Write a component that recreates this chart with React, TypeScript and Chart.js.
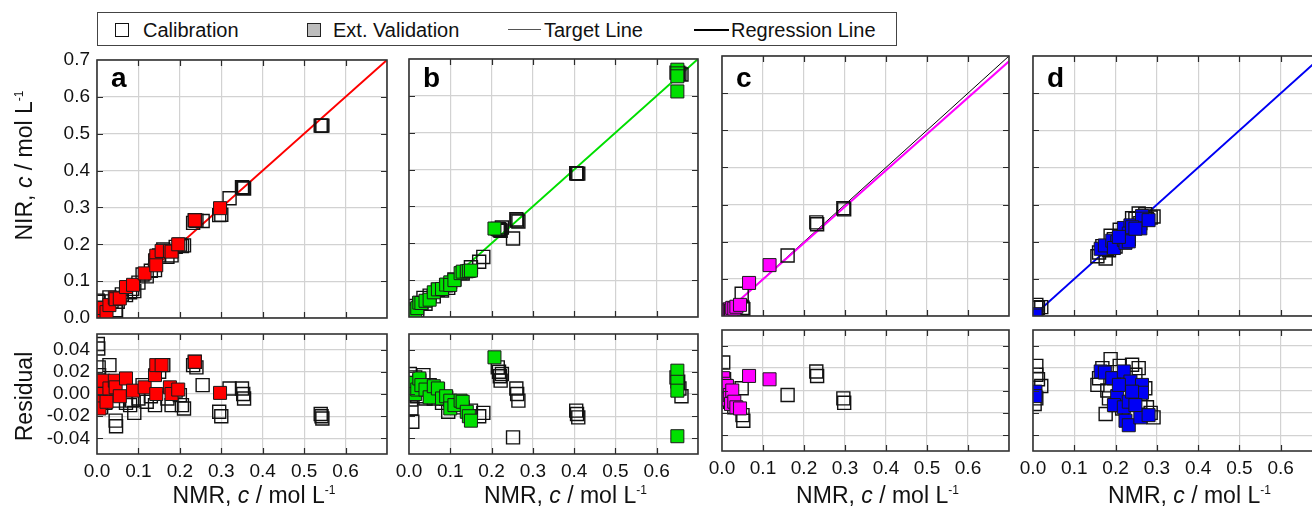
import React, { useEffect, useRef } from 'react';
import { Chart, registerables } from 'chart.js';
Chart.register(...registerables);

// ---------- axis ticks / ranges ----------
const nmrTicks = [0, 0.1, 0.2, 0.3, 0.4, 0.5, 0.6, 0.7];
const nirTicks = [0, 0.1, 0.2, 0.3, 0.4, 0.5, 0.6, 0.7];
const resTicks = [-0.04, -0.02, 0, 0.02, 0.04];
const nmrRange = [0, 0.7];
const nirRange = [0, 0.7];
const resRange = [-0.054, 0.054];

const panelLetters = ['a', 'b', 'c', 'd'];
const regColors = ['#ff0000', '#00e000', '#ff00ff', '#0000f5'];
const regSlope = [1.0, 1.0, 0.978, 0.999];
const regIntercept = [0.0, 0.0, 0.001, 0.0];

const legendLabels = ['Calibration', 'Ext. Validation', 'Target Line', 'Regression Line'];

// ---------- panel a ----------
const calNmrA = [0.002, 0.003, 0.004, 0.005, 0.006, 0.008, 0.010, 0.015, 0.020, 0.030, 0.035, 0.045, 0.046, 0.050, 0.060, 0.070, 0.080, 0.085, 0.090, 0.100, 0.110, 0.120, 0.130, 0.140, 0.150, 0.160, 0.170, 0.180, 0.190, 0.200, 0.205, 0.210, 0.232, 0.236, 0.240, 0.255, 0.295, 0.300, 0.320, 0.350, 0.353, 0.355, 0.540, 0.542, 0.544];
const calNirA = [0.047, 0.044, 0.028, 0.022, 0.014, 0.004, 0.000, 0.017, 0.012, 0.056, 0.045, 0.021, 0.017, 0.044, 0.064, 0.062, 0.070, 0.079, 0.073, 0.096, 0.118, 0.113, 0.128, 0.130, 0.170, 0.186, 0.166, 0.170, 0.193, 0.199, 0.195, 0.197, 0.258, 0.265, 0.264, 0.263, 0.279, 0.280, 0.325, 0.355, 0.353, 0.351, 0.522, 0.522, 0.522];
const calResA = [0.045, 0.041, 0.024, 0.017, 0.008, -0.004, -0.012, 0.002, -0.008, 0.026, 0.010, -0.024, -0.029, -0.006, 0.004, -0.008, -0.010, -0.006, -0.017, -0.004, 0.008, -0.007, -0.002, -0.010, 0.020, 0.026, -0.004, -0.010, 0.003, -0.001, -0.010, -0.013, 0.026, 0.029, 0.024, 0.008, -0.016, -0.020, 0.005, 0.005, 0.000, -0.004, -0.018, -0.020, -0.022];
const valNmrA = [0.002, 0.004, 0.006, 0.006, 0.015, 0.023, 0.030, 0.043, 0.045, 0.055, 0.070, 0.087, 0.115, 0.140, 0.143, 0.156, 0.143, 0.176, 0.180, 0.196, 0.236, 0.297];
const valNirA = [0.012, 0.004, 0.000, 0.000, 0.027, 0.016, 0.035, 0.055, 0.051, 0.053, 0.084, 0.090, 0.121, 0.157, 0.169, 0.182, 0.143, 0.182, 0.180, 0.200, 0.265, 0.298];
const valResA = [0.010, 0.000, -0.007, -0.013, 0.012, -0.007, 0.005, 0.012, 0.006, -0.002, 0.014, 0.003, 0.006, 0.017, 0.026, 0.026, 0.000, 0.006, 0.000, 0.004, 0.029, 0.001];

// ---------- panel b ----------
const calNmrB = [0.002, 0.004, 0.005, 0.006, 0.008, 0.010, 0.015, 0.020, 0.025, 0.030, 0.035, 0.040, 0.050, 0.060, 0.070, 0.080, 0.090, 0.095, 0.110, 0.130, 0.150, 0.170, 0.180, 0.215, 0.218, 0.220, 0.222, 0.225, 0.252, 0.260, 0.262, 0.265, 0.405, 0.407, 0.410, 0.648, 0.652, 0.655, 0.660];
const calNirB = [0.020, 0.014, 0.000, 0.000, 0.000, 0.015, 0.030, 0.018, 0.037, 0.036, 0.052, 0.036, 0.058, 0.056, 0.074, 0.072, 0.086, 0.079, 0.102, 0.118, 0.135, 0.150, 0.163, 0.239, 0.238, 0.236, 0.234, 0.243, 0.213, 0.265, 0.262, 0.259, 0.390, 0.389, 0.389, 0.663, 0.663, 0.660, 0.658];
const calResB = [0.018, 0.010, -0.005, -0.013, -0.025, 0.005, 0.015, -0.002, 0.012, 0.006, 0.017, -0.004, 0.008, -0.004, 0.004, -0.008, -0.004, -0.016, -0.008, -0.012, -0.015, -0.020, -0.017, 0.024, 0.020, 0.016, 0.012, 0.018, -0.039, 0.005, 0.000, -0.006, -0.015, -0.018, -0.021, 0.015, 0.011, 0.005, -0.002];
const valNmrB = [0.005, 0.010, 0.015, 0.020, 0.025, 0.030, 0.040, 0.050, 0.060, 0.070, 0.080, 0.090, 0.100, 0.100, 0.110, 0.125, 0.130, 0.140, 0.145, 0.150, 0.207, 0.650, 0.650, 0.650, 0.650];
const valNirB = [0.009, 0.020, 0.015, 0.024, 0.039, 0.038, 0.044, 0.047, 0.067, 0.075, 0.076, 0.088, 0.094, 0.087, 0.100, 0.119, 0.123, 0.124, 0.125, 0.126, 0.240, 0.671, 0.661, 0.653, 0.612];
const valResB = [0.004, 0.010, 0.000, 0.004, 0.014, 0.008, 0.004, -0.003, 0.007, 0.005, -0.004, -0.002, -0.006, -0.013, -0.010, -0.006, -0.007, -0.016, -0.020, -0.024, 0.033, 0.021, 0.011, 0.003, -0.038];

// ---------- panel c ----------
const calNmrC = [0.003, 0.005, 0.008, 0.010, 0.015, 0.020, 0.030, 0.048, 0.050, 0.052, 0.160, 0.230, 0.232, 0.296, 0.298];
const calNirC = [0.006, 0.008, 0.010, 0.012, 0.016, 0.014, 0.020, 0.060, 0.022, 0.018, 0.163, 0.252, 0.247, 0.290, 0.287];
const calResC = [0.025, 0.010, 0.004, 0.000, -0.005, -0.010, -0.015, 0.002, -0.022, -0.027, -0.004, 0.017, 0.013, -0.007, -0.011];
const valNmrC = [0.003, 0.005, 0.008, 0.010, 0.012, 0.015, 0.019, 0.022, 0.025, 0.030, 0.035, 0.044, 0.066, 0.116];
const valNirC = [0.004, 0.006, 0.008, 0.010, 0.015, 0.012, 0.018, 0.015, 0.022, 0.020, 0.025, 0.030, 0.089, 0.137];
const valResC = [0.011, 0.006, 0.000, -0.005, 0.004, -0.008, -0.004, -0.012, 0.000, -0.010, -0.015, -0.016, 0.013, 0.010];

// ---------- panel d ----------
const calNmrD = [0.008, 0.008, 0.012, 0.020, 0.008, 0.004, 0.188, 0.160, 0.156, 0.176, 0.184, 0.200, 0.216, 0.240, 0.248, 0.272, 0.276, 0.292, 0.232, 0.168, 0.224, 0.256, 0.196, 0.210, 0.180, 0.260, 0.285];
const calNirD = [0.030, 0.022, 0.022, 0.024, 0.001, 0.000, 0.216, 0.171, 0.161, 0.155, 0.177, 0.187, 0.200, 0.263, 0.262, 0.274, 0.261, 0.268, 0.208, 0.188, 0.223, 0.276, 0.207, 0.232, 0.180, 0.250, 0.265];
const calResD = [0.022, 0.014, 0.010, 0.004, -0.007, -0.012, 0.028, 0.011, 0.005, -0.021, -0.007, -0.013, -0.016, 0.023, 0.014, 0.002, -0.015, -0.024, -0.024, 0.020, -0.001, 0.020, 0.011, 0.022, 0.000, -0.010, -0.020];
const valNmrD = [0.006, 0.006, 0.164, 0.174, 0.192, 0.220, 0.236, 0.264, 0.264, 0.204, 0.196, 0.220, 0.232, 0.224, 0.232, 0.260, 0.280, 0.208, 0.240, 0.248];
const valNirD = [0.005, 0.001, 0.181, 0.190, 0.203, 0.237, 0.244, 0.269, 0.262, 0.199, 0.183, 0.205, 0.222, 0.197, 0.201, 0.236, 0.258, 0.213, 0.239, 0.235];
const valResD = [-0.001, -0.005, 0.017, 0.016, 0.011, 0.017, 0.008, 0.005, -0.002, -0.005, -0.013, -0.015, -0.010, -0.027, -0.031, -0.024, -0.022, 0.005, -0.001, -0.013];

const calNmr = [calNmrA, calNmrB, calNmrC, calNmrD];
const calNir = [calNirA, calNirB, calNirC, calNirD];
const calRes = [calResA, calResB, calResC, calResD];
const valNmr = [valNmrA, valNmrB, valNmrC, valNmrD];
const valNir = [valNirA, valNirB, valNirC, valNirD];
const valRes = [valResA, valResB, valResC, valResD];

// ---------- layout (positions only) ----------
const FONT = '"Liberation Sans", Arial, Helvetica, sans-serif';
type Rect = { l: number; t: number; w: number; h: number };
const topRects: Rect[] = [
  { l: 97, t: 60, w: 290, h: 258 },
  { l: 409, t: 59, w: 289, h: 258 },
  { l: 722, t: 56, w: 287, h: 260 },
  { l: 1033, t: 56, w: 289, h: 260 },
];
const botRects: Rect[] = [
  { l: 97, t: 334, w: 290, h: 120 },
  { l: 409, t: 334, w: 289, h: 120 },
  { l: 722, t: 330, w: 287, h: 121 },
  { l: 1033, t: 330, w: 289, h: 121 },
];
const PAD_L = 70;
const PAD_T = 24;
const PAD_R = 16;
const LETTER_BASELINE = 87;

const framePlugin = {
  id: 'frame',
  afterDatasetsDraw(chart: any, _args: any, opts: any) {
    const { ctx, chartArea: a, scales } = chart;
    ctx.save();
    ctx.strokeStyle = '#2b2b2b';
    ctx.lineWidth = 1.2;
    const tl = 6;
    ctx.beginPath();
    scales.x.ticks.forEach((t: any) => {
      const px = Math.round(scales.x.getPixelForValue(t.value)) + 0.5;
      if (px <= a.left + 2 || px >= a.right - 2) return;
      ctx.moveTo(px, a.top);
      ctx.lineTo(px, a.top + tl);
      ctx.moveTo(px, a.bottom);
      ctx.lineTo(px, a.bottom - tl);
    });
    scales.y.ticks.forEach((t: any) => {
      const py = Math.round(scales.y.getPixelForValue(t.value)) + 0.5;
      if (py <= a.top + 2 || py >= a.bottom - 2) return;
      ctx.moveTo(a.left, py);
      ctx.lineTo(a.left + tl, py);
      ctx.moveTo(a.right, py);
      ctx.lineTo(a.right - tl, py);
    });
    ctx.stroke();
    ctx.lineWidth = 1.6;
    ctx.strokeStyle = '#333';
    ctx.strokeRect(a.left, a.top, a.right - a.left, a.bottom - a.top);
    if (opts && opts.letter) {
      ctx.font = `bold 28px ${FONT}`;
      ctx.fillStyle = '#000';
      ctx.textBaseline = 'alphabetic';
      ctx.textAlign = 'left';
      ctx.fillText(opts.letter, a.left + 14, opts.letterY);
    }
    ctx.restore();
  },
};

type PanelProps = {
  rect: Rect;
  index: number;
  residual: boolean;
};

function Panel({ rect, index, residual }: PanelProps) {
  const ref = useRef<HTMLCanvasElement>(null);
  const showX = residual;
  const showY = index === 0;
  const padB = showX ? 44 : 24;
  const cw = rect.w + PAD_L + PAD_R;
  const ch = rect.h + PAD_T + padB;
  const canvasTop = rect.t - PAD_T;

  useEffect(() => {
    const yVals = residual ? resTicks : nirTicks;
    const yRange = residual ? resRange : nirRange;
    const calY = residual ? calRes[index] : calNir[index];
    const valY = residual ? valRes[index] : valNir[index];
    const datasets: any[] = [
      {
        label: legendLabels[1],
        data: valNmr[index].map((x, i) => ({ x, y: valY[i] })),
        pointStyle: 'rect',
        pointRadius: 9.2,
        pointBackgroundColor: regColors[index],
        pointBorderColor: '#1a1a1a',
        pointBorderWidth: 1,
        showLine: false,
        order: 0,
        clip: 0,
      },
      {
        label: legendLabels[0],
        data: calNmr[index].map((x, i) => ({ x, y: calY[i] })),
        pointStyle: 'rect',
        pointRadius: 9.2,
        pointBackgroundColor: 'rgba(0,0,0,0)',
        pointBorderColor: '#111',
        pointBorderWidth: 1.4,
        showLine: false,
        order: 1,
        clip: 0,
      },
    ];
    if (!residual) {
      datasets.push({
        label: legendLabels[3],
        data: nmrRange.map((x) => ({ x, y: regSlope[index] * x + regIntercept[index] })),
        showLine: true,
        borderColor: regColors[index],
        borderWidth: 2,
        pointRadius: 0,
        order: 2,
        clip: 0,
      });
      datasets.push({
        label: legendLabels[2],
        data: nmrRange.map((x) => ({ x, y: x })),
        showLine: true,
        borderColor: '#000',
        borderWidth: 1,
        pointRadius: 0,
        order: 3,
        clip: 0,
      });
    }
    const chart = new Chart(ref.current as HTMLCanvasElement, {
      type: 'scatter',
      data: { datasets },
      options: {
        animation: false,
        responsive: false,
        maintainAspectRatio: false,
        devicePixelRatio: 1,
        events: [],
        layout: { autoPadding: false, padding: { left: 0, top: PAD_T, right: PAD_R, bottom: 0 } },
        plugins: {
          legend: { display: false },
          tooltip: { enabled: false },
          frame: {
            letter: residual ? '' : panelLetters[index],
            letterY: LETTER_BASELINE - canvasTop,
          },
        } as any,
        scales: {
          x: {
            type: 'linear',
            min: nmrRange[0],
            max: nmrRange[1],
            afterBuildTicks: (s: any) => {
              s.ticks = nmrTicks.map((v) => ({ value: v }));
            },
            afterFit: (s: any) => {
              s.height = padB;
            },
            ticks: {
              display: showX,
              autoSkip: false,
              maxRotation: 0,
              padding: 6,
              color: '#111',
              font: { size: 19, family: FONT },
              callback: (v: any) => (Math.abs(Number(v) - 0.7) < 1e-9 ? '' : Number(v).toFixed(1)),
            },
            grid: { color: '#d2d2d2', lineWidth: 1.2, drawTicks: false },
            border: { display: false },
          },
          y: {
            type: 'linear',
            min: yRange[0],
            max: yRange[1],
            afterBuildTicks: (s: any) => {
              s.ticks = yVals.map((v) => ({ value: v }));
            },
            afterFit: (s: any) => {
              s.width = PAD_L;
            },
            ticks: {
              display: showY,
              autoSkip: false,
              padding: 7,
              color: '#111',
              font: { size: 19, family: FONT },
              callback: (v: any) => Number(v).toFixed(residual ? 2 : 1),
            },
            grid: { color: '#d2d2d2', lineWidth: 1.2, drawTicks: false },
            border: { display: false },
          },
        },
      },
      plugins: [framePlugin],
    } as any);
    return () => chart.destroy();
  }, []);

  return (
    <canvas
      ref={ref}
      width={cw}
      height={ch}
      style={{ position: 'absolute', left: rect.l - PAD_L, top: canvasTop, width: cw, height: ch }}
    />
  );
}

const textBase: React.CSSProperties = {
  position: 'absolute',
  fontFamily: FONT,
  color: '#111',
  whiteSpace: 'nowrap',
};

function AxisTitle({ cx, baseline }: { cx: number; baseline: number }) {
  return (
    <div style={{ ...textBase, left: cx - 150, width: 300, top: baseline - 0.8465 * 23, fontSize: 23, lineHeight: '23px', textAlign: 'center' }}>
      NMR, <i>c</i> / mol L<span style={{ fontSize: 12, position: 'relative', top: -9 }}>-1</span>
    </div>
  );
}

function YTitle({ cy, children }: { cy: number; children: React.ReactNode }) {
  return (
    <div
      style={{
        ...textBase,
        left: 24 - 150,
        top: cy - 11.5,
        width: 300,
        height: 23,
        fontSize: 23,
        lineHeight: '23px',
        textAlign: 'center',
        transform: 'rotate(-90deg)',
      }}
    >
      {children}
    </div>
  );
}

function Legend() {
  const txt: React.CSSProperties = { ...textBase, fontSize: 20, lineHeight: '20px', top: 35.7 - 12 - 0.8465 * 20 };
  return (
    <div style={{ position: 'absolute', left: 97, top: 12, width: 798, height: 32, border: '1px solid #444', background: '#fff' }}>
      <div style={{ position: 'absolute', left: 17, top: 10, width: 12, height: 12, border: '1.5px solid #111', background: '#fff' }} />
      <div style={{ ...txt, left: 45 }}>{legendLabels[0]}</div>
      <div style={{ position: 'absolute', left: 209, top: 10, width: 12, height: 12, border: '1.2px solid #222', background: '#bdbdbd' }} />
      <div style={{ ...txt, left: 235 }}>{legendLabels[1]}</div>
      <div style={{ position: 'absolute', left: 410, top: 16, width: 33, height: 1, background: '#555' }} />
      <div style={{ ...txt, left: 446 }}>{legendLabels[2]}</div>
      <div style={{ position: 'absolute', left: 596, top: 15.5, width: 35, height: 2, background: '#000' }} />
      <div style={{ ...txt, left: 633 }}>{legendLabels[3]}</div>
    </div>
  );
}

export default function App() {
  return (
    <div style={{ position: 'fixed', left: 0, top: 0, width: 1312, height: 507, overflow: 'hidden', background: '#fff' }}>
      <Legend />
      {topRects.map((r, i) => (
        <Panel key={'t' + i} rect={r} index={i} residual={false} />
      ))}
      {botRects.map((r, i) => (
        <Panel key={'b' + i} rect={r} index={i} residual={true} />
      ))}
      {botRects.map((r, i) => (
        <AxisTitle key={'x' + i} cx={r.l + r.w / 2 + 12} baseline={503.5} />
      ))}
      <YTitle cy={165}>
        NIR, <i>c</i> / mol L<span style={{ fontSize: 12, position: 'relative', top: -9 }}>-1</span>
      </YTitle>
      <YTitle cy={396}>Residual</YTitle>
    </div>
  );
}
